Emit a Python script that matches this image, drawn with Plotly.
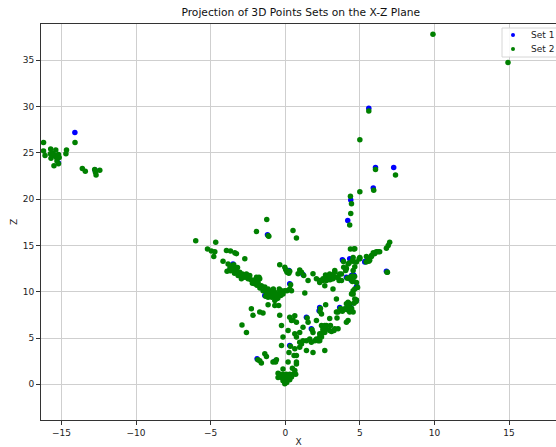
import plotly.graph_objects as go

# ---- data (x, z) ----
set1_x = [-14.1, -15.2, -15.55, 5.6, 6.05, 5.9, 7.27, 4.39, 4.19, -1.19, 5.37, 6.78, 4.44, 4.44, 4.77,
          4.77, 4.39, 3.83, 4.32, 5.33, 4.55, 4.44, 4.8, 2.31, 3.65, -3.5, -1.37, 0.25, 0.3, 1.19,
          -1.89, 1.42, 1.75, 2.27, 4.1, 3.88, 4.1, 4.61, -0.7, 0.3, 0.19, -3.72, -0.6, -12.75]
set1_z = [27.2, 23.9, 24.8, 29.8, 23.4, 21.2, 23.4, 19.9, 17.7, 16.15, 13.3, 12.2, 13.4, 11.75, 10.5,
          9.05, 8.3, 13.45, 13.55, 13.2, 11.85, 11.2, 10.55, 8.3, 8.3, 13.0, 9.6, 12.3, 10.85, 11.85,
          2.75, 7.25, 6.0, 7.95, 8.15, 13.35, 11.55, 11.75, 2.5, 4.2, 12.1, 12.35, 9.4, 23.15]

set2_points = [
    # upper-left cluster
    (-16.2, 26.1), (-16.2, 25.2), (-16.1, 24.7), (-15.72, 25.4), (-15.74, 24.9), (-15.6, 24.95),
    (-15.38, 25.3), (-15.7, 24.4), (-15.5, 24.7), (-15.33, 24.5), (-15.2, 24.8), (-15.15, 24.5),
    (-15.3, 24.1), (-15.2, 23.8), (-15.5, 23.6), (-14.7, 24.9), (-14.66, 25.3), (-14.09, 26.1),
    (-13.6, 23.3), (-13.4, 23.0), (-12.77, 23.2), (-12.72, 22.9), (-12.68, 22.6), (-12.43, 23.1),
    (-15.45, 24.75),
    # sparse upper points
    (9.9, 37.8), (14.93, 34.75), (5.6, 29.5), (5.0, 26.4), (5.0, 20.8), (6.05, 23.2), (5.93, 20.95),
    (7.39, 22.6), (4.37, 20.3), (4.44, 19.5), (4.39, 18.45), (4.32, 17.2), (-1.24, 17.8),
    (-1.93, 16.5), (-1.1, 16.0), (0.52, 16.6), (0.75, 15.8),
    # right branch top
    (7.0, 15.35), (6.9, 15.0), (6.78, 14.7), (6.33, 14.3), (6.1, 14.3), (6.22, 14.3), (6.0, 14.1),
    (5.9, 14.2), (5.78, 13.9), (5.78, 13.8), (5.55, 13.6), (5.6, 13.3), (5.66, 13.4), (5.44, 13.8),
    (5.0, 13.55), (5.0, 13.7), (4.6, 14.6), (4.37, 14.6), (4.66, 14.65), (6.85, 12.1), (6.82, 12.1),
    (4.55, 13.3), (4.55, 13.7), (4.28, 13.1), (4.95, 13.55), (3.92, 12.65), (4.1, 12.5), (4.21, 13.0),
    (4.77, 13.2), (4.66, 12.7), (4.05, 12.3), (4.55, 12.3), (5.42, 13.2), (4.5, 13.35),
    # right branch descending
    (4.32, 11.55), (4.77, 11.0), (4.55, 11.2), (4.32, 11.4), (4.55, 10.1), (4.66, 10.3), (4.44, 9.75),
    (4.5, 9.8), (4.73, 9.05), (4.66, 9.2), (4.61, 8.75), (4.32, 8.7), (4.55, 7.8), (4.21, 8.85),
    (4.55, 9.75), (4.77, 9.1), (4.21, 8.5), (4.1, 8.7), (3.99, 8.15), (3.83, 7.9), (4.32, 7.8),
    (3.54, 7.8), (3.43, 7.8), (2.98, 7.1), (3.47, 7.15), (4.1, 6.7), (4.21, 6.9), (3.32, 6.0), (3.54, 6.0),
    (4.5, 11.7), (4.5, 11.1), (4.85, 10.45), (4.75, 8.95), (4.45, 8.2), (4.15, 8.05), (3.7, 8.2),
    # middle blob
    (2.98, 11.9), (2.76, 11.55), (2.53, 11.2), (3.2, 11.4), (3.54, 11.55), (3.65, 11.9), (3.77, 11.2),
    (3.32, 12.3), (2.31, 11.0), (3.2, 10.3), (1.86, 11.95), (2.09, 11.4), (2.31, 11.2), (2.53, 11.4),
    (2.76, 11.2), (2.87, 11.55), (3.1, 11.4), (3.2, 11.75), (3.32, 12.1), (3.43, 11.55), (2.65, 10.65),
    (3.61, 11.2), (3.77, 11.9), (2.98, 11.6), (3.0, 11.3), (2.7, 11.8), (3.43, 9.2), (3.9, 13.25),
    (4.15, 11.45), (4.65, 11.65),
    # centre column
    (-0.37, 12.9), (-0.03, 12.65), (0.12, 12.1), (0.03, 12.4), (0.3, 12.2), (0.08, 12.3), (1.09, 12.1),
    (0.97, 12.35), (0.86, 11.95), (1.53, 11.2), (1.31, 9.85), (0.42, 10.1), (0.12, 10.1), (-0.03, 10.1),
    (0.3, 10.3), (0.36, 10.75), (1.24, 11.75), (0.24, 12.0),
    # left arm
    (-6.0, 15.5), (-5.21, 14.6), (-4.95, 14.4), (-4.72, 14.3), (-4.66, 15.35), (-4.79, 13.8),
    (-3.94, 14.45), (-3.67, 14.4), (-3.38, 14.2), (-3.27, 14.1), (-4.17, 13.3), (-2.71, 13.55),
    (-3.83, 13.0), (-3.9, 12.2), (-3.6, 12.8), (-3.5, 12.5), (-3.27, 12.3), (-3.05, 12.1), (-3.16, 11.75),
    (-2.87, 11.9), (-2.71, 11.55), (-2.49, 11.4), (-2.38, 11.75), (-2.94, 11.4), (-2.16, 11.2),
    (-2.04, 10.85), (-1.82, 11.0), (-1.76, 11.55), (-1.6, 10.65), (-1.37, 10.5), (-1.49, 10.1),
    (-1.26, 9.95), (-1.15, 10.3), (-1.04, 9.75), (-0.92, 10.1), (-0.82, 9.6), (-0.7, 9.95), (-0.59, 9.25),
    (-0.48, 9.6), (-0.37, 9.95), (-0.25, 10.1), (-0.15, 9.75), (-0.7, 9.05), (-1.15, 9.4), (-1.93, 11.55),
    (-1.71, 11.4), (-3.7, 12.6), (-3.4, 12.0), (-3.0, 11.7), (-2.6, 11.6), (-2.3, 11.3), (-2.2, 10.9),
    (-1.9, 10.7), (-1.7, 10.4), (-1.1, 10.0), (-0.9, 9.4), (-0.5, 9.3), (-0.3, 9.6), (-0.6, 9.7),
    (-1.3, 10.2), (-2.6, 11.9), (-3.2, 12.6), (-2.0, 11.3), (-0.8, 10.3), (-0.4, 10.3),
    (-3.45, 12.9), (-3.68, 12.25), (-1.32, 9.5), (-0.55, 9.35), (-1.14, 16.05),
    # lower left of V
    (-2.27, 8.15), (-2.16, 7.45), (-1.71, 7.8), (-1.49, 7.7), (-0.7, 8.5), (-1.15, 8.6), (-0.37, 7.45),
    (-0.25, 6.35), (-2.9, 6.4), (-2.6, 5.6), (0.3, 7.25), (0.52, 6.95), (-0.44, 8.5),
    # lower centre
    (-1.71, 2.55), (-1.37, 3.3), (-1.26, 3.0), (-0.82, 2.4), (-0.59, 2.65), (-1.6, 2.3), (-0.15, 5.1),
    (-0.25, 4.2), (0.19, 5.8), (0.35, 4.1), (0.25, 3.45), (0.75, 3.1), (0.64, 3.85), (0.75, 2.4),
    (0.97, 4.0), (0.42, 6.9), (0.64, 7.4), (0.75, 6.7), (0.97, 5.6), (1.19, 6.15), (1.53, 6.7),
    (1.86, 5.6), (1.64, 4.9), (1.42, 4.7), (1.19, 4.7), (0.97, 4.55), (1.98, 4.7), (2.09, 4.9),
    (2.31, 5.1), (2.43, 5.45), (2.65, 5.6), (2.53, 6.0), (2.76, 6.35), (2.09, 6.9), (2.43, 7.6),
    (2.71, 8.6), (2.65, 3.65), (1.86, 3.45), (1.42, 3.65), (2.65, 6.35), (3.03, 6.35), (3.27, 5.8),
    (3.1, 5.7), (2.76, 6.0), (2.43, 6.35), (2.53, 5.8), (2.31, 5.45), (2.43, 5.1), (2.31, 4.7),
    (1.09, 4.35), (1.75, 4.55), (2.2, 4.7), (2.98, 5.8), (0.64, 5.45), (0.75, 5.1), (0.19, 2.4),
    (0.75, 2.2), (0.59, 3.1), (-1.84, 2.65), (-0.65, 2.4), (1.47, 7.15), (1.8, 5.9), (2.33, 7.85),
    (2.36, 8.2),
    # bottom of V
    (-0.03, 0.05), (-0.15, 0.4), (0.08, 0.4), (-0.25, 0.75), (0.19, 0.75), (-0.37, 1.1), (-0.48, 1.2),
    (0.3, 1.1), (0.42, 0.8), (0.52, 1.1), (0.64, 1.5), (0.48, 1.75), (-0.15, 1.65), (0.7, 1.1),
    (-0.48, 0.75), (-0.03, 0.6), (-0.15, 1.1), (0.08, 1.1), (0.1, 0.2), (-0.1, 0.9), (0.3, 0.5),
]
set2_x = [p[0] for p in set2_points]
set2_z = [p[1] for p in set2_points]

series_names = ["Set 1", "Set 2"]
series_colors = ["#0000ff", "#008000"]
x_ticks = [-15, -10, -5, 0, 5, 10, 15]
z_ticks = [0, 5, 10, 15, 20, 25, 30, 35]

FONT = "DejaVu Sans, sans-serif"
W, H = 556, 447
ML, MR, MT, MB = 41, 0, 24, 27
PW, PH = W - ML - MR, H - MT - MB


def px_to_paper(px, py):
    return (px - ML) / PW, (H - MB - py) / PH


fig = go.Figure()
fig.add_trace(go.Scatter(x=set1_x, y=set1_z, mode="markers", name=series_names[0], showlegend=False,
                         marker=dict(color=series_colors[0], size=5.5, line=dict(width=0))))
fig.add_trace(go.Scatter(x=set2_x, y=set2_z, mode="markers", name=series_names[1], showlegend=False,
                         marker=dict(color=series_colors[1], size=5.5, line=dict(width=0))))

axis_common = dict(showgrid=True, gridcolor="#cfcfcf", gridwidth=1, zeroline=False,
                   showline=True, linecolor="#333333", linewidth=1, automargin=False,
                   ticks="outside", ticklen=4, tickcolor="#333333",
                   tickfont=dict(family=FONT, size=9, color="#222222"))

# compact legend box (matplotlib style), drawn in paper coordinates
bx0, by0 = px_to_paper(502, 57)
bx1, by1 = px_to_paper(600, 28)
shapes = [dict(type="rect", xref="paper", yref="paper", x0=bx0, y0=by0, x1=bx1, y1=by1,
               line=dict(color="#d6d6d6", width=1), fillcolor="rgba(255,255,255,0.85)", layer="above")]
annotations = []
for i, (name, color) in enumerate(zip(series_names, series_colors)):
    ypx = 35 + 14 * i
    mx, my = px_to_paper(513, ypx)
    tx, _ = px_to_paper(529, ypx)
    shapes.append(dict(type="circle", xref="paper", yref="paper", xsizemode="pixel", ysizemode="pixel",
                       xanchor=mx, yanchor=my, x0=-2.0, x1=2.0, y0=-2.0, y1=2.0,
                       fillcolor=color, line=dict(width=0), layer="above"))
    annotations.append(dict(text=name, xref="paper", yref="paper", x=tx, y=my, xanchor="left",
                            yanchor="middle", showarrow=False,
                            font=dict(family=FONT, size=9, color="#222222")))

fig.update_layout(
    width=W, height=H,
    margin=dict(l=ML, r=MR, t=MT, b=MB, autoexpand=False),
    paper_bgcolor="white", plot_bgcolor="white",
    font=dict(family=FONT, size=9, color="#222222"),
    title=dict(text="Projection of 3D Points Sets on the X-Z Plane", xref="container", x=0.541,
               xanchor="center", yref="container", y=0.982, yanchor="top",
               font=dict(family=FONT, size=10.7, color="#111111")),
    xaxis=dict(range=[-16.37, -16.37 + PW / 14.92], tickvals=x_ticks, mirror=True,
               title=dict(text="X", standoff=3, font=dict(family=FONT, size=9)),
               **axis_common),
    yaxis=dict(range=[-3.85, 38.9], tickvals=z_ticks,
               title=dict(text="Z", standoff=3, font=dict(family=FONT, size=9)),
               **axis_common),
    shapes=shapes,
    annotations=annotations,
    showlegend=False,
)

fig.write_html("out.html", config={"displayModeBar": False},
               post_script="document.body.style.margin='0';document.body.style.overflow='hidden';")
